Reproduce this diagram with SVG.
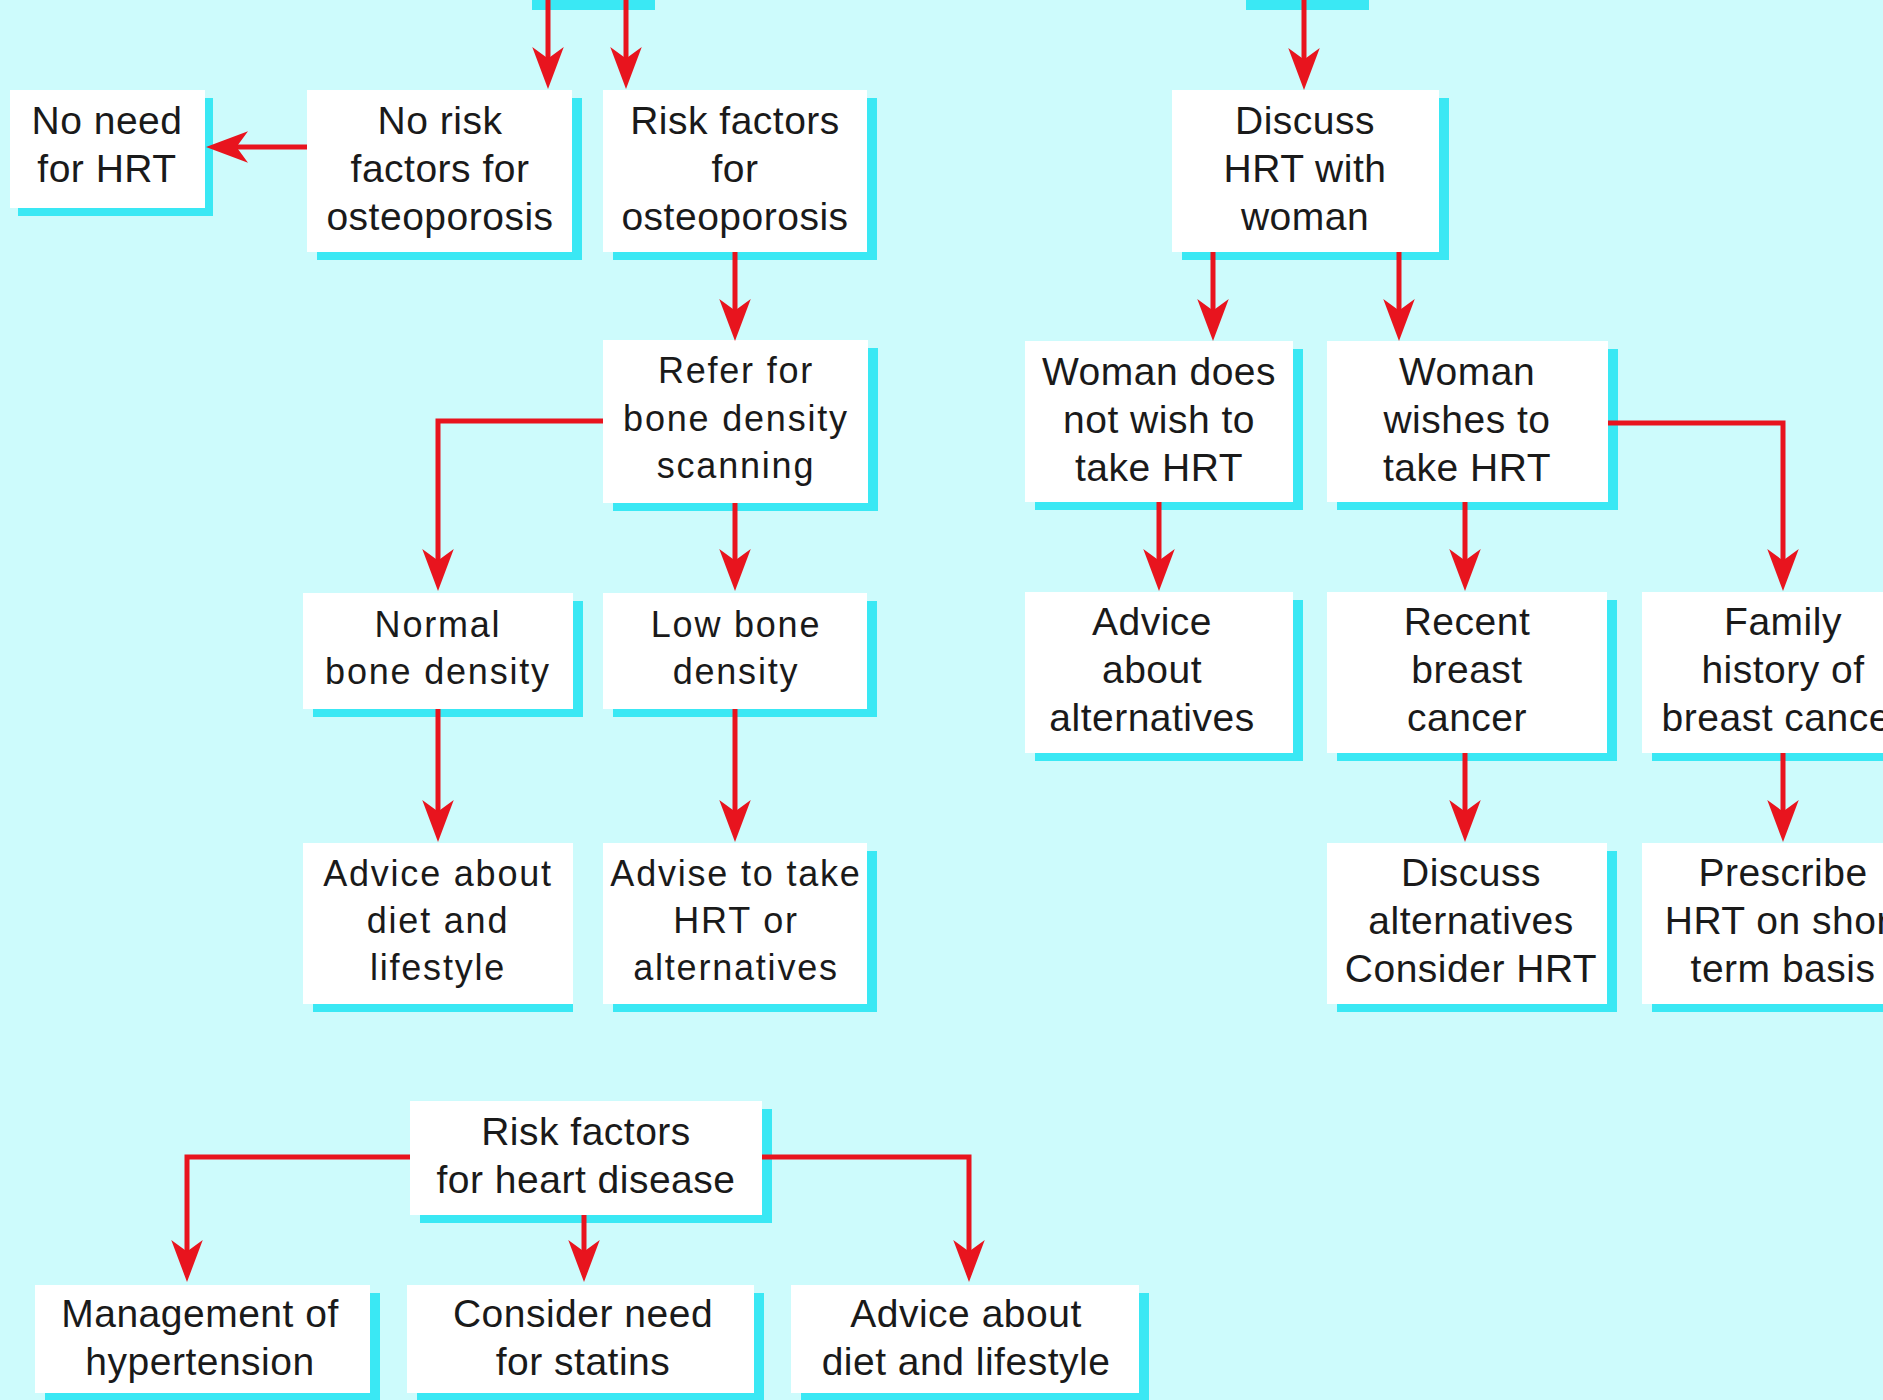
<svg xmlns="http://www.w3.org/2000/svg" width="1883" height="1400" viewBox="0 0 1883 1400">
<style>
.bg{fill:#cdfbfc}
.box{fill:#ffffff}
.sh{fill:#3ae8f4}
.t{font-family:"Liberation Sans",Arial,sans-serif;font-size:39px;letter-spacing:0.5px;fill:#1a1a1a;text-anchor:middle}
.m{font-family:"Liberation Sans",Arial,sans-serif;font-size:36px;letter-spacing:1.8px;fill:#1a1a1a;text-anchor:middle}
.c{fill:none;stroke:#e8141e;stroke-width:5;stroke-linejoin:miter}
</style>
<defs>
<marker id="ah" markerUnits="userSpaceOnUse" markerWidth="42" markerHeight="32" viewBox="0 0 40 30" refX="20" refY="15" orient="auto">
<path d="M0,0 L40,15 L0,30 L11,15 Z" fill="#e8141e"/>
</marker>
</defs>
<rect class="bg" x="0" y="0" width="1883" height="1400"/>

<g id="top-left-partial">
<rect class="sh" x="532" y="-52" width="123" height="62"/>
<rect class="box" x="524" y="-60" width="123" height="60"/>
</g>
<g id="top-right-partial">
<rect class="sh" x="1246" y="-52" width="123" height="62"/>
<rect class="box" x="1238" y="-60" width="123" height="60"/>
</g>

<g id="no-need-hrt">
<rect class="sh" x="18" y="98" width="195" height="118"/>
<rect class="box" x="10" y="90" width="195" height="118"/>
<text class="t" x="107" y="134">No need</text>
<text class="t" x="107" y="182">for HRT</text>
</g>
<g id="no-risk-osteo">
<rect class="sh" x="317" y="98" width="265" height="162"/>
<rect class="box" x="307" y="90" width="265" height="162"/>
<text class="t" x="440" y="134">No risk</text>
<text class="t" x="440" y="182">factors for</text>
<text class="t" x="440" y="230">osteoporosis</text>
</g>
<g id="risk-osteo">
<rect class="sh" x="613" y="98" width="264" height="162"/>
<rect class="box" x="603" y="90" width="264" height="162"/>
<text class="t" x="735" y="134">Risk factors</text>
<text class="t" x="735" y="182">for</text>
<text class="t" x="735" y="230">osteoporosis</text>
</g>
<g id="discuss-hrt">
<rect class="sh" x="1182" y="98" width="267" height="162"/>
<rect class="box" x="1172" y="90" width="267" height="162"/>
<text class="t" x="1305" y="134">Discuss</text>
<text class="t" x="1305" y="182">HRT with</text>
<text class="t" x="1305" y="230">woman</text>
</g>

<g id="refer-bone">
<rect class="sh" x="613" y="348" width="265" height="163"/>
<rect class="box" x="603" y="340" width="265" height="163"/>
<text class="m" x="736" y="383">Refer for</text>
<text class="m" x="736" y="431">bone density</text>
<text class="m" x="736" y="478">scanning</text>
</g>
<g id="woman-not-wish">
<rect class="sh" x="1035" y="349" width="268" height="161"/>
<rect class="box" x="1025" y="341" width="268" height="161"/>
<text class="t" x="1159" y="385">Woman does</text>
<text class="t" x="1159" y="433">not wish to</text>
<text class="t" x="1159" y="481">take HRT</text>
</g>
<g id="woman-wishes">
<rect class="sh" x="1337" y="349" width="281" height="161"/>
<rect class="box" x="1327" y="341" width="281" height="161"/>
<text class="t" x="1467" y="385">Woman</text>
<text class="t" x="1467" y="433">wishes to</text>
<text class="t" x="1467" y="481">take HRT</text>
</g>

<g id="normal-bone">
<rect class="sh" x="313" y="601" width="270" height="116"/>
<rect class="box" x="303" y="593" width="270" height="116"/>
<text class="m" x="438" y="637">Normal</text>
<text class="m" x="438" y="684">bone density</text>
</g>
<g id="low-bone">
<rect class="sh" x="613" y="601" width="264" height="116"/>
<rect class="box" x="603" y="593" width="264" height="116"/>
<text class="m" x="736" y="637">Low bone</text>
<text class="m" x="736" y="684">density</text>
</g>
<g id="advice-alternatives">
<rect class="sh" x="1035" y="600" width="268" height="161"/>
<rect class="box" x="1025" y="592" width="268" height="161"/>
<text class="t" x="1152" y="635">Advice</text>
<text class="t" x="1152" y="683">about</text>
<text class="t" x="1152" y="731">alternatives</text>
</g>
<g id="recent-breast-cancer">
<rect class="sh" x="1337" y="600" width="280" height="161"/>
<rect class="box" x="1327" y="592" width="280" height="161"/>
<text class="t" x="1467" y="635">Recent</text>
<text class="t" x="1467" y="683">breast</text>
<text class="t" x="1467" y="731">cancer</text>
</g>
<g id="family-history">
<rect class="sh" x="1652" y="600" width="282" height="161"/>
<rect class="box" x="1642" y="592" width="282" height="161"/>
<text class="t" x="1783" y="635">Family</text>
<text class="t" x="1783" y="683">history of</text>
<text class="t" x="1783" y="731">breast cancer</text>
</g>

<g id="advice-diet-lifestyle">
<rect class="sh" x="313" y="851" width="260" height="161"/>
<rect class="box" x="303" y="843" width="270" height="161"/>
<text class="m" x="438" y="886">Advice about</text>
<text class="m" x="438" y="933">diet and</text>
<text class="m" x="438" y="980">lifestyle</text>
</g>
<g id="advise-hrt">
<rect class="sh" x="613" y="851" width="264" height="161"/>
<rect class="box" x="603" y="843" width="264" height="161"/>
<text class="m" x="736" y="886">Advise to take</text>
<text class="m" x="736" y="933">HRT or</text>
<text class="m" x="736" y="980">alternatives</text>
</g>
<g id="discuss-alternatives">
<rect class="sh" x="1337" y="851" width="280" height="161"/>
<rect class="box" x="1327" y="843" width="280" height="161"/>
<text class="t" x="1471" y="886">Discuss</text>
<text class="t" x="1471" y="934">alternatives</text>
<text class="t" x="1471" y="982">Consider HRT</text>
</g>
<g id="prescribe-hrt">
<rect class="sh" x="1652" y="851" width="282" height="161"/>
<rect class="box" x="1642" y="843" width="282" height="161"/>
<text class="t" x="1783" y="886">Prescribe</text>
<text class="t" x="1783" y="934">HRT on short</text>
<text class="t" x="1783" y="982">term basis</text>
</g>

<g id="risk-heart">
<rect class="sh" x="420" y="1109" width="352" height="114"/>
<rect class="box" x="410" y="1101" width="352" height="114"/>
<text class="t" x="586" y="1145">Risk factors</text>
<text class="t" x="586" y="1193">for heart disease</text>
</g>
<g id="management-hypertension">
<rect class="sh" x="45" y="1293" width="335" height="108"/>
<rect class="box" x="35" y="1285" width="335" height="108"/>
<text class="t" x="200" y="1327">Management of</text>
<text class="t" x="200" y="1375">hypertension</text>
</g>
<g id="consider-statins">
<rect class="sh" x="417" y="1293" width="347" height="108"/>
<rect class="box" x="407" y="1285" width="347" height="108"/>
<text class="t" x="583" y="1327">Consider need</text>
<text class="t" x="583" y="1375">for statins</text>
</g>
<g id="advice-diet-heart">
<rect class="sh" x="801" y="1293" width="348" height="108"/>
<rect class="box" x="791" y="1285" width="348" height="108"/>
<text class="t" x="966" y="1327">Advice about</text>
<text class="t" x="966" y="1375">diet and lifestyle</text>
</g>

<g id="connectors">
<path class="c" d="M548,0 V68" marker-end="url(#ah)"/>
<path class="c" d="M626,0 V68" marker-end="url(#ah)"/>
<path class="c" d="M1304,0 V69" marker-end="url(#ah)"/>
<path class="c" d="M307,147 H227" marker-end="url(#ah)"/>
<path class="c" d="M735,252 V320" marker-end="url(#ah)"/>
<path class="c" d="M1213,252 V320" marker-end="url(#ah)"/>
<path class="c" d="M1399,252 V320" marker-end="url(#ah)"/>
<path class="c" d="M603,421 H438 V570" marker-end="url(#ah)"/>
<path class="c" d="M735,503 V570" marker-end="url(#ah)"/>
<path class="c" d="M438,709 V821" marker-end="url(#ah)"/>
<path class="c" d="M735,709 V821" marker-end="url(#ah)"/>
<path class="c" d="M1159,502 V570" marker-end="url(#ah)"/>
<path class="c" d="M1465,502 V570" marker-end="url(#ah)"/>
<path class="c" d="M1608,423 H1783 V570" marker-end="url(#ah)"/>
<path class="c" d="M1465,753 V821" marker-end="url(#ah)"/>
<path class="c" d="M1783,753 V821" marker-end="url(#ah)"/>
<path class="c" d="M410,1157 H187 V1261" marker-end="url(#ah)"/>
<path class="c" d="M584,1215 V1261" marker-end="url(#ah)"/>
<path class="c" d="M762,1157 H969 V1261" marker-end="url(#ah)"/>
</g>
</svg>
